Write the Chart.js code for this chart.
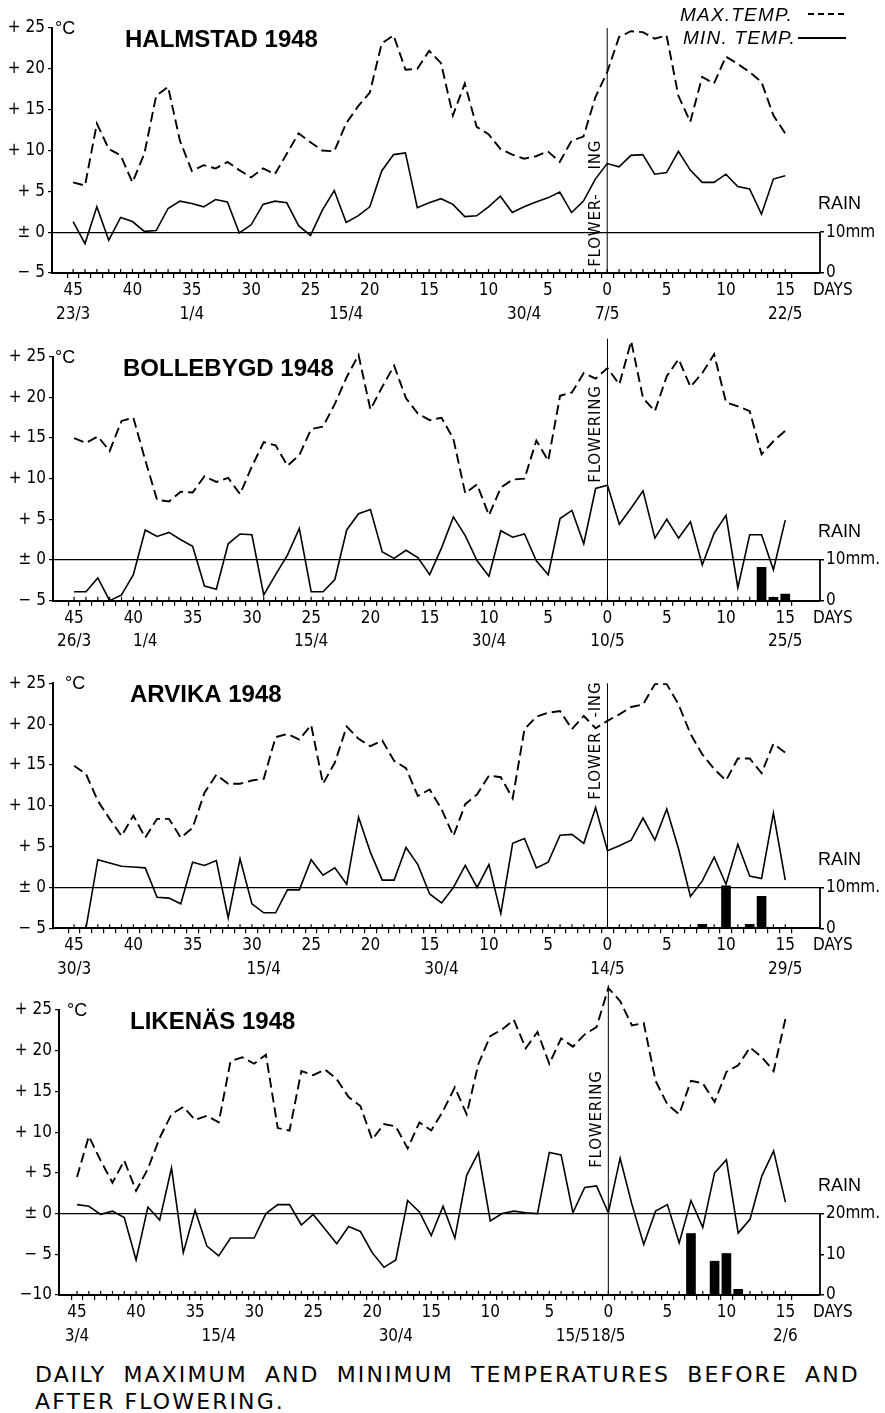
<!DOCTYPE html>
<html>
<head>
<meta charset="utf-8">
<script src="https://cdn.jsdelivr.net/npm/chart.js@4.4.0/dist/chart.umd.min.js"></script>
<style>
  body { margin: 0; background: #fff; }
  #wrap { position: relative; width: 885px; height: 1413px; overflow: hidden; }
  .panel { position: absolute; left: 0; }
  #caption {
    position: absolute; left: 35px; top: 1361px;
    font: 22px 'DejaVu Sans', sans-serif; line-height: 27px;
    letter-spacing: 2.1px; color: #000; white-space: nowrap;
  }
  #caption .l1 { word-spacing: 8px; }
</style>
</head>
<body>
<div id="wrap">
  <canvas id="c1" class="panel" style="top:0px" width="885" height="330"></canvas>
  <canvas id="c2" class="panel" style="top:330px" width="885" height="330"></canvas>
  <canvas id="c3" class="panel" style="top:660px" width="885" height="325"></canvas>
  <canvas id="c4" class="panel" style="top:985px" width="885" height="360"></canvas>
  <div id="caption"><span class="l1">DAILY MAXIMUM AND MINIMUM TEMPERATURES BEFORE AND</span><br><span>AFTER FLOWERING.</span></div>
</div>
<script>
'use strict';

// days relative to flowering (negative = before)
const days = [-45, -44, -43, -42, -41, -40, -39, -38, -37, -36, -35, -34, -33, -32, -31, -30,
  -29, -28, -27, -26, -25, -24, -23, -22, -21, -20, -19, -18, -17, -16, -15, -14,
  -13, -12, -11, -10, -9, -8, -7, -6, -5, -4, -3, -2, -1, 0,
  1, 2, 3, 4, 5, 6, 7, 8, 9, 10, 11, 12, 13, 14, 15];

const tempTicks = [25, 20, 15, 10, 5, 0, -5, -10];
const tempTickLabels = ['+ 25', '+ 20', '+ 15', '+ 10', '+ 5', '± 0', '− 5', '−10'];

// Halmstad
const halmstadMax = [6.1, 5.7, 13.3, 10.2, 9.4, 6.1, 9.6, 16.7, 17.8, 11.2, 7.5, 8.2, 7.8, 8.6, 7.6, 6.7,
  7.8, 7.1, 9.6, 12.1, 11, 10, 9.9, 13.3, 15.4, 17.1, 23.1, 24.1, 19.9, 20, 22.2, 20.7,
  14.3, 18.2, 12.9, 12, 10.2, 9.5, 9, 9.3, 9.9, 8.6, 11.2, 11.7, 16.5, 19.6,
  23.9, 24.6, 24.5, 23.7, 24.1, 16.7, 13.5, 19, 18.2, 21.5, 20.6, 19.6, 18.4, 14.3, 12.1];
const halmstadMin = [1.3, -1.4, 3.1, -1.0, 1.8, 1.3, 0.1, 0.2, 2.9, 3.8, 3.5, 3.1, 4, 3.7, -0.1, 0.9,
  3.4, 3.8, 3.6, 0.8, -0.4, 2.7, 5.1, 1.2, 2, 3.1, 7.5, 9.5, 9.7, 3, 3.6, 4.1,
  3.4, 1.9, 2, 3.1, 4.4, 2.4, 3.1, 3.7, 4.2, 4.9, 2.4, 3.8, 6.5, 8.4,
  8, 9.4, 9.5, 7.1, 7.3, 9.9, 7.6, 6.1, 6.1, 7.1, 5.6, 5.3, 2.2, 6.5, 6.9];
const halmstadRainDays = [];
const halmstadRain = [];
const halmstadDateDays = [-45, -35, -22, -7, 0, 15];
const halmstadDates = ['23/3', '1/4', '15/4', '30/4', '7/5', '22/5'];

// Bollebygd
const bollebygdMax = [15, 14.4, 15.2, 13.4, 17.1, 17.5, 12.3, 7.4, 7.2, 8.4, 8.3, 10.3, 9.6, 10.1, 8.1, 11.5,
  14.5, 14.1, 11.6, 12.9, 16.1, 16.4, 19.2, 22.5, 25.2, 18.5, 21.3, 23.9, 19.9, 18, 17.2, 17.5,
  14.9, 8.2, 9.3, 5.5, 8.9, 9.9, 10, 14.7, 12.2, 20.2, 20.6, 23, 22.3, 23.6,
  21.6, 26.9, 19.9, 18.3, 22.6, 24.7, 21.3, 23, 25.3, 19.4, 18.9, 18.3, 13, 14.6, 15.9];
const bollebygdMin = [-3.9, -3.9, -2.2, -5, -4.3, -1.8, 3.7, 2.9, 3.4, 2.5, 1.7, -3.2, -3.6, 2, 3.2, 3.1,
  -4.3, -1.8, 0.6, 3.9, -3.9, -3.9, -2.4, 3.7, 5.7, 6.2, 1, 0.2, 1.2, 0.3, -1.8, 1.5,
  5.3, 3, -0.1, -2, 3.6, 2.8, 3.2, -0.1, -1.8, 5.1, 6.1, 2, 8.8, 9.2,
  4.4, 6.4, 8.5, 2.7, 5, 2.7, 4.7, -0.6, 3.3, 5.5, -3.4, 3.1, 3.1, -1.2, 4.9];
const bollebygdRainDays = [13, 14, 15];
const bollebygdRain = [8.2, 0.8, 1.6];
const bollebygdDateDays = [-45, -39, -25, -10, 0, 15];
const bollebygdDates = ['26/3', '1/4', '15/4', '30/4', '10/5', '25/5'];

// Arvika
const arvikaMax = [14.9, 13.9, 10.6, 8.4, 6.3, 8.8, 6.1, 8.4, 8.4, 6.1, 7.3, 11.6, 13.8, 12.7, 12.7, 13.1,
  13.3, 18.4, 18.8, 18.1, 19.9, 12.7, 15.3, 19.7, 18.2, 17.3, 18, 15.5, 14.6, 11.2, 12, 9.6,
  6.3, 10.2, 11.4, 13.7, 13.5, 10.9, 19.4, 20.9, 21.4, 21.6, 19.4, 21, 19.5, 20.4,
  21.2, 22.1, 22.4, 24.9, 24.9, 22.4, 18.8, 16.3, 14.5, 13.1, 15.8, 15.8, 14, 17.6, 16.5];
const arvikaMin = [-5, -5, 3.4, 3, 2.6, 2.5, 2.4, -1.2, -1.3, -2, 3.1, 2.7, 3.3, -3.7, 3.5, -2,
  -3.1, -3.1, -0.3, -0.3, 3.4, 1.5, 2.4, 0.4, 8.6, 4.3, 0.9, 0.9, 4.9, 2.8, -0.8, -1.9,
  0, 2.7, 0, 2.8, -3.2, 5.4, 6, 2.4, 3.1, 6.4, 6.5, 5.4, 9.8, 4.5,
  5.1, 5.8, 8.5, 5.8, 9.6, 4.7, -1.1, 0.8, 3.7, 0.4, 5.3, 1.4, 1.1, 9.1, 0.9];
const arvikaRainDays = [8, 10, 12, 13];
const arvikaRain = [1, 10.4, 1, 7.8];
const arvikaDateDays = [-45, -29, -14, 0, 15];
const arvikaDates = ['30/3', '15/4', '30/4', '14/5', '29/5'];

// Likenäs
const likenasMax = [4.5, 9.5, 6.5, 3.8, 6.5, 2.8, 5.5, 9.3, 12.2, 13.1, 11.5, 12, 11.2, 18.7, 19.2, 18.4,
  19.5, 10.5, 10.2, 17.5, 17, 17.7, 16.5, 14.3, 13.2, 9.1, 11, 10.7, 8, 11.2, 10.2, 12.6,
  15.5, 12.2, 18.4, 21.8, 22.6, 23.8, 20.3, 22.3, 18.4, 21.5, 20.5, 22, 22.9, 27.7,
  26.1, 23.1, 23.4, 16.3, 13.4, 12.2, 16.3, 16, 13.7, 17.4, 18.2, 20.4, 19.2, 17.5, 23.9];
const likenasMin = [1.1, 0.9, -0.1, 0.3, -0.5, -5.7, 0.8, -0.8, 5.6, -4.8, 0.4, -4, -5.2, -3, -3, -3,
  0, 1.1, 1.1, -1.4, -0.1, -1.9, -3.7, -1.6, -2.2, -4.8, -6.6, -5.7, 1.6, 0.2, -2.7, 0.9,
  -3, 4.7, 7.5, -0.9, 0, 0.3, 0.1, 0, 7.5, 7.2, 0.1, 3.2, 3.4, 0.1,
  6.8, 1.1, -3.8, 0.3, 1.1, -3.6, 1.6, -1.7, 5, 6.6, -2.4, -0.7, 4.6, 7.7, 1.4];
const likenasRainDays = [7, 9, 10, 11];
const likenasRain = [15.1, 8.3, 10.2, 1.4];
const likenasDateDays = [-45, -33, -18, -3, 0, 15];
const likenasDates = ['3/4', '15/4', '30/4', '15/5', '18/5', '2/6'];

const tickFont = { family: "'Liberation Sans Narrow', 'DejaVu Sans Condensed', sans-serif", size: 17 };

const panels = [
  { id: 'c1', title: 'HALMSTAD 1948', titleX: 125, degX: 55, max: halmstadMax, min: halmstadMin,
    rainDays: halmstadRainDays, rain: halmstadRain, dateDays: halmstadDateDays, dates: halmstadDates,
    yMin: -5, rainTop: 10, rainLabels: ['0', '10mm'], pad: 28, xH: 57, leftW: 52, xMin: -46.25,
    lineExt: 0, flower: [{ text: 'FLOWER-', at: 0.25 }, { text: 'ING', at: 9.5 }], legend: true },
  { id: 'c2', title: 'BOLLEBYGD 1948', titleX: 123, degX: 55, max: bollebygdMax, min: bollebygdMin,
    rainDays: bollebygdRainDays, rain: bollebygdRain, dateDays: bollebygdDateDays, dates: bollebygdDates,
    yMin: -5, rainTop: 10, rainLabels: ['0', '10mm.'], pad: 26.7, xH: 59.3, leftW: 53, xMin: -46.25,
    lineExt: 18, flower: [{ text: 'FLOWERING', at: 15.5 }] },
  { id: 'c3', title: 'ARVIKA 1948', titleX: 130, degX: 65, max: arvikaMax, min: arvikaMin,
    rainDays: arvikaRainDays, rain: arvikaRain, dateDays: arvikaDateDays, dates: arvikaDates,
    yMin: -5, rainTop: 10, rainLabels: ['0', '10mm.'], pad: 23.3, xH: 56.7, leftW: 53, xMin: -46.25,
    lineExt: 0, flower: [{ text: 'FLOWER', at: 14.9 }, { text: '-ING', at: 23 }] },
  { id: 'c4', title: 'LIKENÄS 1948', titleX: 130, degX: 67, max: likenasMax, min: likenasMin,
    rainDays: likenasRainDays, rain: likenasRain, dateDays: likenasDateDays, dates: likenasDates,
    yMin: -10, rainTop: 20, rainLabels: ['0', '10', '20mm.'], pad: 25, xH: 50, leftW: 59, xMin: -46,
    lineExt: 25, flower: [{ text: 'FLOWERING', at: 11.6 }] }
];

const decor = {
  id: 'decor',
  afterDraw(chart, args, opts) {
    const ctx = chart.ctx;
    const x = chart.scales.x, y = chart.scales.y, r = chart.scales.rain;
    const area = chart.chartArea;
    ctx.save();
    ctx.strokeStyle = '#000';
    ctx.fillStyle = '#000';

    // little crosses on the day axis
    ctx.lineWidth = 1.2;
    x.ticks.forEach(t => {
      const px = x.getPixelForValue(t.value);
      ctx.beginPath();
      ctx.moveTo(px, area.bottom);
      ctx.lineTo(px, area.bottom - 4);
      ctx.stroke();
    });

    // rain scale
    ctx.lineWidth = 1.8;
    ctx.beginPath();
    ctx.moveTo(area.right, r.getPixelForValue(0));
    ctx.lineTo(area.right, r.getPixelForValue(opts.rainTop));
    ctx.stroke();

    // flowering day
    const fx = x.getPixelForValue(0);
    ctx.lineWidth = 1;
    ctx.beginPath();
    ctx.moveTo(fx, area.bottom);
    ctx.lineTo(fx, area.top - opts.lineExt);
    ctx.stroke();
    ctx.font = "15px 'DejaVu Sans'";
    ctx.letterSpacing = '0.8px';
    ctx.textAlign = 'center';
    ctx.textBaseline = 'middle';
    opts.flower.forEach(w => {
      ctx.save();
      ctx.translate(fx - 11, y.getPixelForValue(w.at));
      ctx.rotate(-Math.PI / 2);
      ctx.fillText(w.text, 0, 0);
      ctx.restore();
    });
    ctx.letterSpacing = '0px';

    // texts
    ctx.textAlign = 'left';
    ctx.textBaseline = 'alphabetic';
    ctx.font = "bold 24px 'Liberation Sans'";
    ctx.fillText(opts.title, opts.titleX, area.top + 19);
    ctx.font = "18px 'Liberation Sans'";
    ctx.fillText('°C', opts.degX, area.top + 6);
    ctx.fillText('RAIN', area.right - 2, y.getPixelForValue(2.8));
    ctx.font = "17px 'Liberation Sans Narrow', 'DejaVu Sans Condensed', sans-serif";
    ctx.textBaseline = 'middle';
    ctx.fillText('DAYS', area.right - 7, area.bottom + 17.5);

    if (opts.legend) {
      ctx.font = "italic 19px 'Liberation Sans'";
      ctx.letterSpacing = '1.2px';
      ctx.textBaseline = 'alphabetic';
      ctx.fillText('MAX.TEMP.', 680, 21);
      ctx.fillText('MIN. TEMP.', 683, 44);
      ctx.letterSpacing = '0px';
      ctx.lineWidth = 1.8;
      ctx.setLineDash([6, 4]);
      ctx.beginPath(); ctx.moveTo(808, 14); ctx.lineTo(846, 14); ctx.stroke();
      ctx.setLineDash([]);
      ctx.beginPath(); ctx.moveTo(798, 38); ctx.lineTo(846, 38); ctx.stroke();
    }
    ctx.restore();
  }
};

panels.forEach(p => {
  const rainMax = p.rainTop * (25 - p.yMin) / (0 - p.yMin);
  const rainTicks = p.rainLabels.map((l, i) => i * 10);
  new Chart(document.getElementById(p.id), {
    type: 'line',
    data: {
      datasets: [
        {
          label: 'MAX.TEMP.',
          data: days.map((d, i) => ({ x: d, y: p.max[i] })),
          borderColor: '#000',
          borderWidth: 1.9,
          borderDash: [10, 5],
          pointRadius: 0,
          tension: 0,
          clip: false
        },
        {
          label: 'MIN. TEMP.',
          data: days.map((d, i) => ({ x: d, y: p.min[i] })),
          borderColor: '#000',
          borderWidth: 1.6,
          pointRadius: 0,
          tension: 0,
          clip: false
        },
        {
          type: 'bar',
          label: 'RAIN',
          yAxisID: 'rain',
          data: p.rainDays.map((d, i) => ({ x: d, y: p.rain[i] })),
          backgroundColor: '#000',
          barThickness: 9
        }
      ]
    },
    options: {
      responsive: false,
      animation: false,
      layout: { padding: { top: p.pad, left: 0, right: 0, bottom: 0 } },
      plugins: {
        legend: { display: false },
        tooltip: { enabled: false },
        decor: p
      },
      scales: {
        x: {
          type: 'linear',
          min: p.xMin,
          max: 17.4,
          afterBuildTicks: s => { s.ticks = days.map(v => ({ value: v })); },
          afterFit: s => { s.height = p.xH; },
          grid: { drawOnChartArea: false, tickLength: 5, color: '#000', lineWidth: 1.2 },
          border: { color: '#000', width: 2 },
          ticks: {
            autoSkip: false,
            maxRotation: 0,
            padding: 1,
            color: '#000',
            font: { ...tickFont, lineHeight: 1.38 },
            callback: v => {
              const top = v % 5 === 0 ? String(Math.abs(v)) : '';
              const k = p.dateDays.indexOf(v);
              return k >= 0 ? [top, p.dates[k]] : top;
            }
          }
        },
        y: {
          position: 'left',
          min: p.yMin,
          max: 25,
          afterBuildTicks: s => { s.ticks = tempTicks.filter(v => v >= p.yMin).map(v => ({ value: v })); },
          afterFit: s => { s.width = p.leftW; },
          grid: {
            color: c => (c.tick && c.tick.value === 0 ? '#000' : 'rgba(0,0,0,0)'),
            tickColor: '#000',
            lineWidth: 1.2,
            tickLength: 4
          },
          border: { color: '#000', width: 2 },
          ticks: {
            padding: 3,
            color: '#000',
            font: tickFont,
            callback: v => tempTickLabels[tempTicks.indexOf(v)]
          }
        },
        rain: {
          position: 'right',
          min: 0,
          max: rainMax,
          afterBuildTicks: s => { s.ticks = rainTicks.map(v => ({ value: v })); },
          afterFit: s => { s.width = 65; },
          grid: { drawOnChartArea: false, tickColor: '#000', lineWidth: 1.5, tickLength: 4 },
          border: { display: false },
          ticks: {
            padding: 2,
            color: '#000',
            font: tickFont,
            callback: v => p.rainLabels[rainTicks.indexOf(v)]
          }
        }
      }
    },
    plugins: [decor]
  });
});
</script>
</body>
</html>
